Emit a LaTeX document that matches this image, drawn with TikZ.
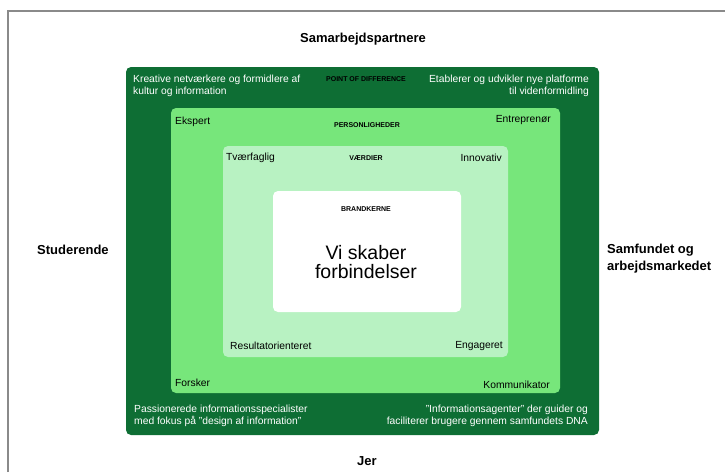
\documentclass[tikz,border=0pt]{standalone}
\usepackage{fontspec}
\setmainfont{Liberation Sans}
\definecolor{dkgreen}{RGB}{14,110,52}
\definecolor{mdgreen}{RGB}{119,230,123}
\definecolor{ltgreen}{RGB}{184,242,194}
\definecolor{framegray}{RGB}{138,138,138}
\begin{document}
\begin{tikzpicture}[x=1pt,y=-1pt,
  lbl/.style={inner sep=0pt, font=\fontsize{10.3}{12.5}\selectfont},
  wlbl/.style={lbl, text=white},
  heading/.style={inner sep=0pt, font=\fontsize{7}{8}\bfseries\selectfont},
  outerlbl/.style={inner sep=0pt, font=\fontsize{13}{17}\bfseries\selectfont},
  layer/.style={rounded corners=5pt}]
\useasboundingbox (0,0) rectangle (725,472);
\draw[framegray, line width=2pt] (8,472) -- (8,11) -- (725,11);
% layers
\fill[layer, dkgreen] (126,67) rectangle (599,435);
\fill[layer, mdgreen] (171,108) rectangle (560,393);
\fill[layer, ltgreen] (223,146) rectangle (508,357);
\fill[layer, white] (273,191) rectangle (461,312);
% outer labels
\node[outerlbl] (samarb) at (363,39) {Samarbejdspartnere};
\node[outerlbl] (jer) at (367,461) {Jer};
\node[outerlbl, anchor=west] (stud) at (37,250) {Studerende};
\node[outerlbl, anchor=west, align=left] (samf) at (607,259) {Samfundet og\\arbejdsmarkedet};
% dark layer
\node[heading, text=black] (pod) at (366,79) {POINT OF DIFFERENCE};
\node[wlbl, anchor=west, align=left] (kreat) at (133,86) {Kreative netværkere og formidlere af\\kultur og information};
\node[wlbl, anchor=east, align=right] (etab) at (589,86) {Etablerer og udvikler nye platforme\\til videnformidling};
\node[wlbl, anchor=west, align=left] (pass) at (134,416) {Passionerede informationsspecialister\\med fokus på "design af information"};
\node[wlbl, anchor=east, align=right] (infag) at (588,416) {"Informationsagenter" der guider og\\faciliterer brugere gennem samfundets DNA};
% medium layer
\node[heading] (pers) at (367,125) {PERSONLIGHEDER};
\node[lbl, anchor=west] (eksp) at (175,122) {Ekspert};
\node[lbl, anchor=east] (entr) at (551,120) {Entreprenør};
\node[lbl, anchor=west] (forsk) at (175,383) {Forsker};
\node[lbl, anchor=east] (komm) at (550,385) {Kommunikator};
% light layer
\node[heading] (vaerd) at (366,158) {VÆRDIER};
\node[lbl, anchor=west] (tvaer) at (226,158) {Tværfaglig};
\node[lbl, anchor=east] (innov) at (502,158) {Innovativ};
\node[lbl, anchor=west] (result) at (230,346) {Resultatorienteret};
\node[lbl, anchor=east] (engag) at (503,346) {Engageret};
% core
\node[heading] (brand) at (366,209) {BRANDKERNE};
\node[inner sep=0pt, align=center, font=\fontsize{19.5}{19.5}\selectfont] (core) at (366,262) {Vi skaber\\forbindelser};
\end{tikzpicture}
\end{document}
